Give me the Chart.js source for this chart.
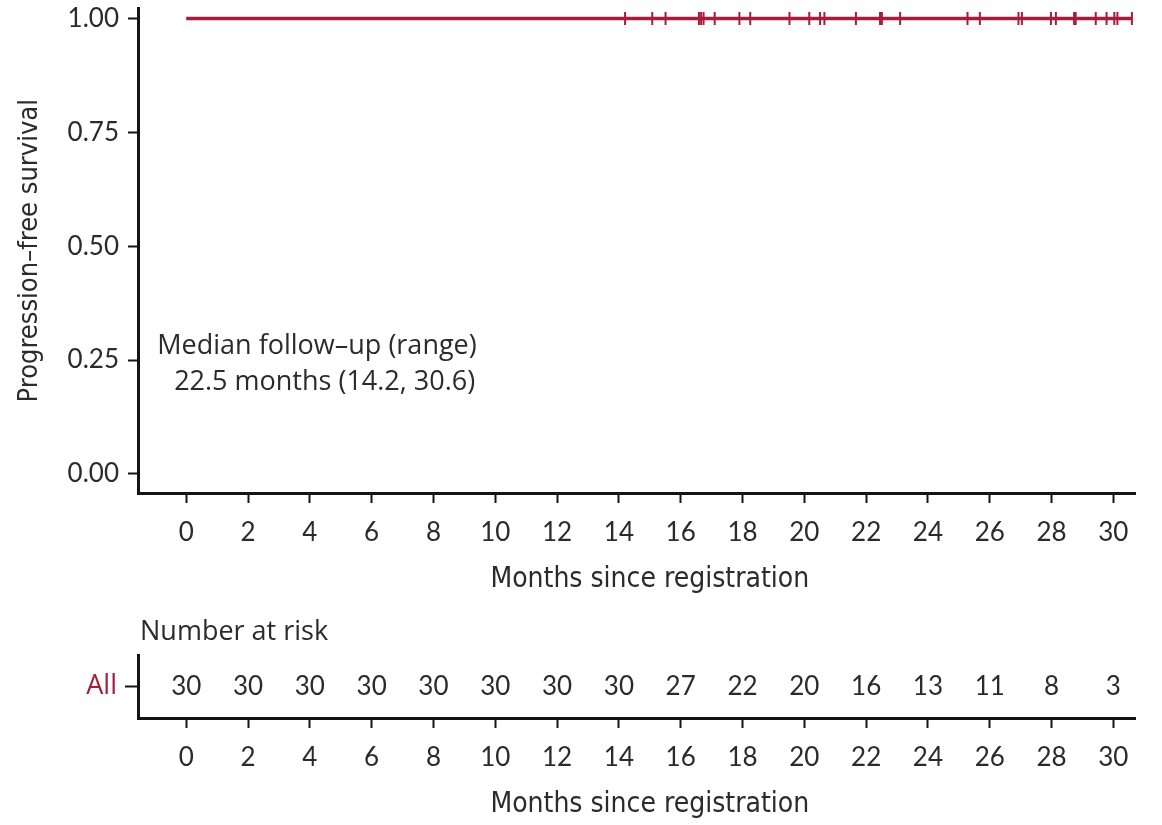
<!DOCTYPE html>
<html>
<head>
<meta charset="utf-8">
<script src="https://cdn.jsdelivr.net/npm/chart.js@4/dist/chart.umd.min.js"></script>
<style>
  html, body { margin: 0; padding: 0; background: #ffffff; }
  #wrap { position: relative; width: 1162px; height: 825px; overflow: hidden; }
  #km { position: absolute; left: 0; top: 0; }
  #risk { position: absolute; left: 0; top: 600px; }
</style>
</head>
<body>
<div id="wrap">
  <canvas id="km" width="1162" height="600"></canvas>
  <canvas id="risk" width="1162" height="225"></canvas>
</div>
<script>
// Kaplan–Meier estimate: no progression events, curve stays at 1.0
const curveTimes = [0, 30.6];
const curveSurvival = [1.0, 1.0];

// Censoring times (months)
const censorTimes = [14.2, 15.08, 15.51, 16.59, 16.66, 16.74, 17.10, 17.90, 18.25, 19.52,
  20.16, 20.51, 20.65, 21.67, 22.45, 22.51, 23.10, 25.28, 25.68, 26.93,
  27.04, 27.98, 28.14, 28.73, 28.78, 29.43, 29.78, 30.03, 30.13, 30.6];
const censorSurvival = censorTimes.map(() => 1.0);

// Number-at-risk table
const riskGroup = 'All';
const riskTimes = [0, 2, 4, 6, 8, 10, 12, 14, 16, 18, 20, 22, 24, 26, 28, 30];
const riskCounts = [30, 30, 30, 30, 30, 30, 30, 30, 27, 22, 20, 16, 13, 11, 8, 3];

// Axis ticks and labels
const xTickValues = [0, 2, 4, 6, 8, 10, 12, 14, 16, 18, 20, 22, 24, 26, 28, 30];
const yTickValues = [0, 0.25, 0.5, 0.75, 1.0];
const xAxisTitle = 'Months since registration';
const yAxisTitle = 'Progression\u2013free survival';
const riskTitle = 'Number at risk';
const noteLines = ['Median follow\u2013up (range)', '22.5 months (14.2, 30.6)'];

const RED = '#a61d3c';
const INK = '#2b2b2b';
const AXIS = '#141414';
const BODY_FAMILY = '"Open Sans", Lato, sans-serif';
const TICK_FAMILY = 'Lato, "Open Sans", sans-serif';
const TITLE_FAMILY = '"Liberation Sans Narrow", "DejaVu Sans Condensed", "Open Sans", sans-serif';

const X_MIN = -1.56, X_MAX = 30.7;

function xScaleOptions() {
  return {
    type: 'linear',
    min: X_MIN,
    max: X_MAX,
    afterBuildTicks: s => { s.ticks = xTickValues.map(v => ({ value: v })); },
    afterFit: s => { s.height = 107; s.paddingLeft = 0; s.paddingRight = 0; },
    border: { display: true, color: AXIS, width: 3 },
    grid: { display: true, drawOnChartArea: false, drawTicks: true, tickLength: 10, tickWidth: 2, tickColor: AXIS },
    ticks: { color: INK, font: { family: TICK_FAMILY, size: 26 }, padding: 14, maxRotation: 0, autoSkip: false },
    title: { display: false }
  };
}

// Draws the x-axis title centred on the 0–30 month range
const xTitlePlugin = {
  id: 'xTitle',
  afterDraw(chart) {
    const xs = chart.scales.x;
    const ctx = chart.ctx;
    ctx.save();
    ctx.font = '28px ' + TITLE_FAMILY;
    ctx.fillStyle = INK;
    ctx.textAlign = 'center';
    ctx.textBaseline = 'middle';
    const cx = (xs.getPixelForValue(xTickValues[0]) + xs.getPixelForValue(xTickValues[xTickValues.length - 1])) / 2;
    ctx.fillText(xAxisTitle, cx, xs.bottom - 20);
    ctx.restore();
  }
};

// Follow-up note inside the plot
const notePlugin = {
  id: 'note',
  afterDraw(chart) {
    const xs = chart.scales.x, ys = chart.scales.y;
    const ctx = chart.ctx;
    ctx.save();
    ctx.font = '27px ' + BODY_FAMILY;
    ctx.fillStyle = INK;
    ctx.textAlign = 'right';
    ctx.textBaseline = 'middle';
    ctx.fillText(noteLines[0], xs.getPixelForValue(9.4), ys.getPixelForValue(0.28));
    ctx.fillText(noteLines[1], xs.getPixelForValue(9.35), ys.getPixelForValue(0.2));
    ctx.restore();
  }
};

new Chart(document.getElementById('km'), {
  type: 'scatter',
  data: {
    datasets: [
      {
        type: 'line',
        label: 'All',
        data: curveTimes.map((t, i) => ({ x: t, y: curveSurvival[i] })),
        stepped: 'before',
        borderColor: RED,
        borderWidth: 3.5,
        pointRadius: 0,
        fill: false
      },
      {
        label: 'Censored',
        data: censorTimes.map((t, i) => ({ x: t, y: censorSurvival[i] })),
        pointStyle: 'line',
        rotation: 90,
        pointRadius: 6.5,
        pointBorderWidth: 2,
        borderColor: RED,
        backgroundColor: RED
      }
    ]
  },
  options: {
    responsive: false,
    animation: false,
    devicePixelRatio: 1,
    layout: { padding: { top: 8, right: 27, bottom: 0, left: 0 } },
    plugins: { legend: { display: false }, tooltip: { enabled: false } },
    scales: {
      x: xScaleOptions(),
      y: {
        type: 'linear',
        min: -0.042,
        max: 1.022,
        afterBuildTicks: s => { s.ticks = yTickValues.map(v => ({ value: v })); },
        afterFit: s => { s.width = 138; s.paddingTop = 0; s.paddingBottom = 0; },
        border: { display: true, color: AXIS, width: 3 },
        grid: { display: true, drawOnChartArea: false, drawTicks: true, tickLength: 10, tickWidth: 2, tickColor: AXIS },
        ticks: { color: INK, font: { family: TICK_FAMILY, size: 26 }, padding: 9, callback: v => Number(v).toFixed(2) },
        title: { display: true, text: yAxisTitle, color: INK, font: { family: TITLE_FAMILY, size: 27 }, padding: { top: 14, bottom: 0 } }
      }
    }
  },
  plugins: [xTitlePlugin, notePlugin]
});

// Risk table: counts written at each time point, plus the table heading
const riskPlugin = {
  id: 'riskCounts',
  afterDraw(chart) {
    const xs = chart.scales.x, ys = chart.scales.y;
    const ctx = chart.ctx;
    ctx.save();
    ctx.font = '26px ' + TICK_FAMILY;
    ctx.fillStyle = INK;
    ctx.textAlign = 'center';
    ctx.textBaseline = 'middle';
    const yMid = ys.getPixelForValue(0.5);
    riskTimes.forEach((t, i) => ctx.fillText(String(riskCounts[i]), xs.getPixelForValue(t), yMid));
    ctx.textAlign = 'left';
    ctx.font = '27px ' + BODY_FAMILY;
    ctx.fillText(riskTitle, chart.chartArea.left + 2, 32);
    ctx.restore();
  }
};

new Chart(document.getElementById('risk'), {
  type: 'scatter',
  data: { datasets: [{ data: [] }] },
  options: {
    responsive: false,
    animation: false,
    devicePixelRatio: 1,
    layout: { padding: { top: 55, right: 27, bottom: 0, left: 0 } },
    plugins: { legend: { display: false }, tooltip: { enabled: false } },
    scales: {
      x: xScaleOptions(),
      y: {
        type: 'linear',
        min: 0,
        max: 1,
        afterBuildTicks: s => { s.ticks = [{ value: 0.5 }]; },
        afterFit: s => { s.width = 138; s.paddingTop = 0; s.paddingBottom = 0; },
        border: { display: true, color: AXIS, width: 3 },
        grid: { display: true, drawOnChartArea: false, drawTicks: true, tickLength: 13, tickWidth: 2, tickColor: AXIS },
        ticks: { color: RED, font: { family: BODY_FAMILY, size: 27 }, padding: 8, callback: () => riskGroup }
      }
    }
  },
  plugins: [xTitlePlugin, riskPlugin]
});
</script>
</body>
</html>
